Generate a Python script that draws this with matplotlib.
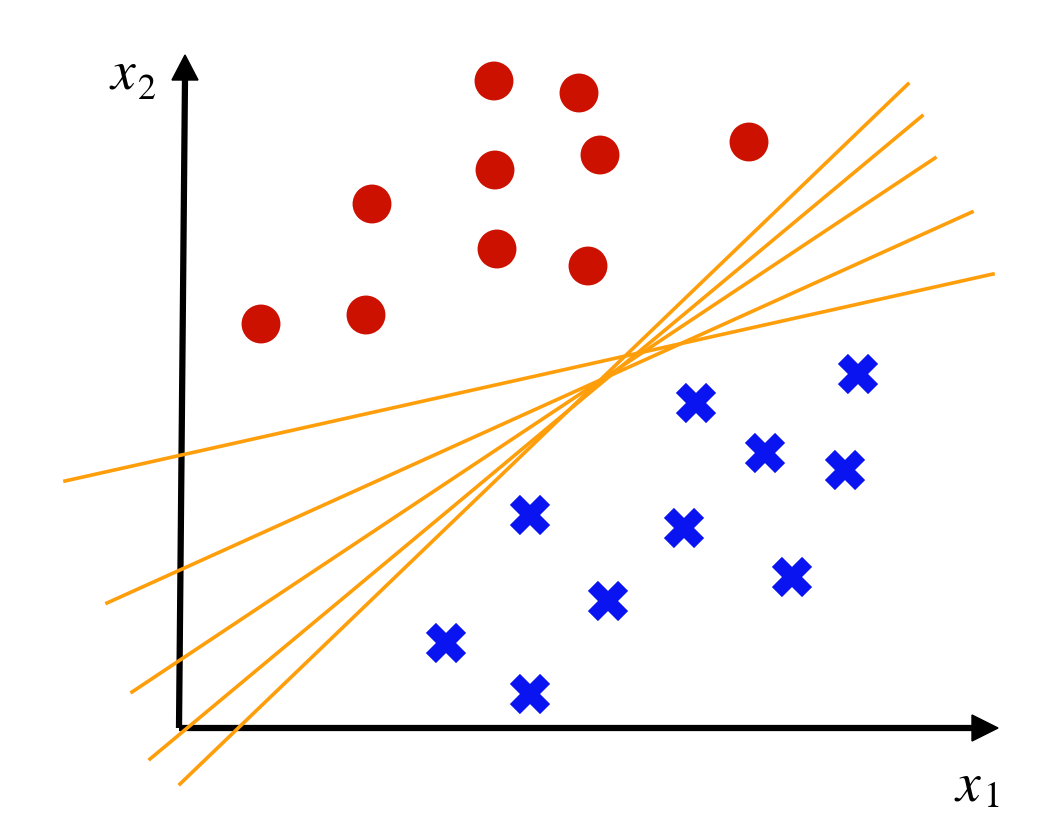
import matplotlib.pyplot as plt
import matplotlib as mpl

mpl.rcParams['mathtext.fontset'] = 'stix'

# positions (pixel-like units, y grows downward)
red_x = [494, 579, 749, 600, 495, 372, 497, 588, 366, 261]
red_y = [81, 93, 142, 155, 170, 204, 249, 266, 315, 324]

blue_x = [858, 696, 765, 845, 530, 684, 792, 608, 446, 530]
blue_y = [374, 403, 453, 470, 515, 528, 577, 601, 643, 694]

# candidate separating lines: (x0, y0, x1, y1)
lines = [
    (65, 481, 993, 274),
    (107, 603, 972, 212),
    (132, 692, 935, 158),
    (150, 759, 922, 116),
    (180, 784, 908, 84),
]

fig = plt.figure(figsize=(10.53, 8.17), dpi=100)
ax = fig.add_axes([0, 0, 1, 1])
ax.set_xlim(0, 1053)
ax.set_ylim(817, 0)
ax.axis('off')

# axes arrows
ax.plot([179, 975], [728, 728], color='black', lw=4.5, solid_capstyle='butt', zorder=1)
ax.plot([179, 185], [728, 78], color='black', lw=4.5, solid_capstyle='butt', zorder=1)
ax.fill([972, 998, 972], [715, 728, 741], color='black', zorder=1)
ax.fill([172, 185, 198], [80, 55, 80], color='black', zorder=1)

for x0, y0, x1, y1 in lines:
    ax.plot([x0, x1], [y0, y1], color='#FF9E0B', lw=2.6, zorder=2)

ax.scatter(red_x, red_y, s=28**2, color='#CC1100', edgecolors='none', zorder=3)
ax.scatter(blue_x, blue_y, s=29**2, marker='X', color='#0A14F0', edgecolors='none', zorder=3)

# axis labels: italic x with a fairly large upright subscript
ax.text(123, 75, 'x', fontsize=40, family='STIXGeneral', style='italic', ha='center', va='center')
ax.text(147, 90, '2', fontsize=26, family='STIXGeneral', ha='center', va='center')
ax.text(968, 787, 'x', fontsize=40, family='STIXGeneral', style='italic', ha='center', va='center')
ax.text(993, 798, '1', fontsize=26, family='STIXGeneral', ha='center', va='center')

fig.savefig('out.png', dpi=100)
